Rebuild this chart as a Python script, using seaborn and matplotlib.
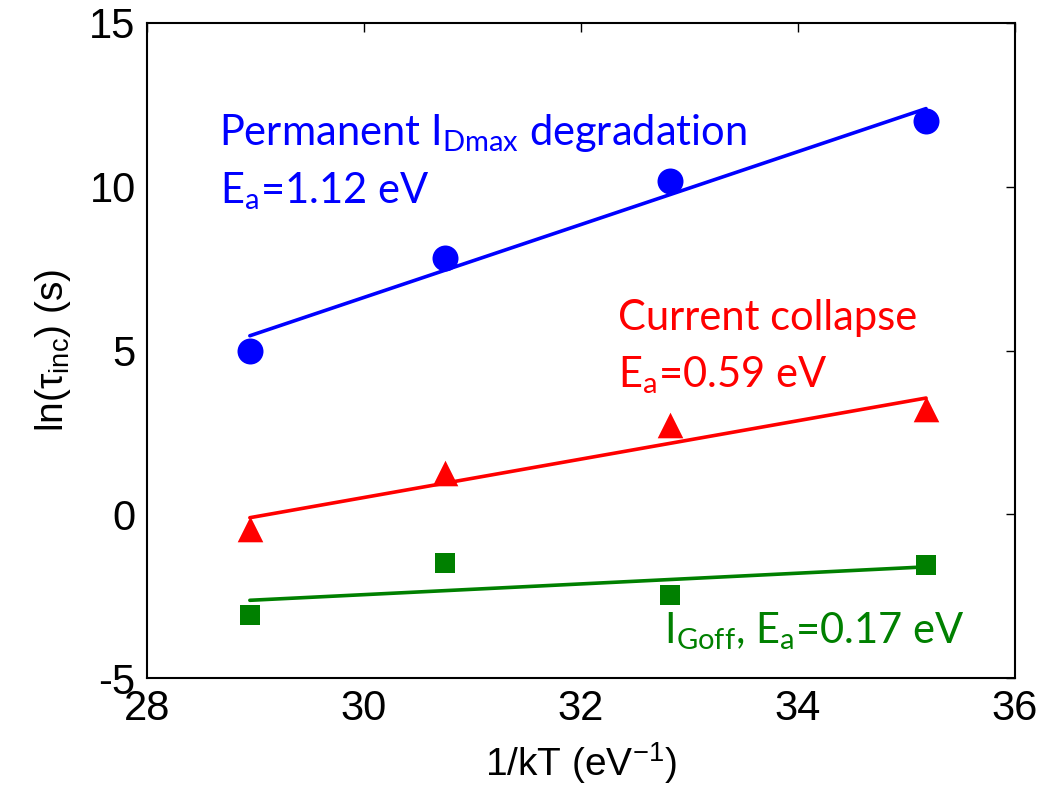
import matplotlib
matplotlib.use("Agg")
import matplotlib.pyplot as plt
import seaborn as sns
import pandas as pd

# -----------------------------
# Data
# -----------------------------
inv_kT = [28.95, 30.75, 32.82, 35.18]
ln_tau_idmax = [4.98, 7.83, 10.17, 12.0]
ln_tau_collapse = [-0.46, 1.25, 2.73, 3.21]
ln_tau_igoff = [-3.07, -1.47, -2.46, -1.54]

# fitted lines (end points)
fit_x = [28.95, 35.18]
fit_idmax = [5.45, 12.38]
fit_collapse = [-0.10, 3.55]
fit_igoff = [-2.62, -1.60]

x_ticks = [28, 30, 32, 34, 36]
y_ticks = [-5, 0, 5, 10, 15]

blue = "#0000ff"
red = "#ff0000"
green = "#008000"

# Style
sns.set_theme(style="white")
plt.rcParams["font.family"] = ["Liberation Sans", "DejaVu Sans"]
plt.rcParams["mathtext.fontset"] = "custom"
plt.rcParams["mathtext.rm"] = "Liberation Sans"
plt.rcParams["text.color"] = "black"
plt.rcParams["axes.labelcolor"] = "black"

fig = plt.figure(figsize=(10.4, 7.94), dpi=100)
ax = fig.add_axes([0.1411, 0.1457, 0.8349, 0.8257])

pts = pd.DataFrame({"x": inv_kT, "idmax": ln_tau_idmax,
                    "collapse": ln_tau_collapse, "igoff": ln_tau_igoff})
fits = pd.DataFrame({"x": fit_x, "idmax": fit_idmax,
                     "collapse": fit_collapse, "igoff": fit_igoff})

# -----------------------------
# Fit lines
# -----------------------------
sns.lineplot(data=fits, x="x", y="idmax", color=blue, linewidth=2.6, ax=ax)
sns.lineplot(data=fits, x="x", y="collapse", color=red, linewidth=2.6, ax=ax)
sns.lineplot(data=fits, x="x", y="igoff", color=green, linewidth=2.6, ax=ax)

# -----------------------------
# Measured points
# -----------------------------
sns.scatterplot(data=pts, x="x", y="idmax", color=blue, marker="o",
                s=350, linewidth=0, ax=ax, zorder=3)
sns.scatterplot(data=pts, x="x", y="collapse", color=red, marker="^",
                s=340, linewidth=0, ax=ax, zorder=3)
sns.scatterplot(data=pts, x="x", y="igoff", color=green, marker="s",
                s=228, linewidth=0, ax=ax, zorder=3)

# -----------------------------
# Annotations
# -----------------------------
tfont = ["Lato", "DejaVu Sans"]
tsize = 30
ax.text(28.67, 11.27, r"Permanent I$_{\mathregular{Dmax}}$ degradation",
        color=blue, fontsize=tsize, family=tfont, va="baseline")
ax.text(28.675, 9.51, r"E$_{\mathregular{a}}$=1.12 eV",
        color=blue, fontsize=tsize, family=tfont, va="baseline")
ax.text(32.34, 5.63, "Current collapse",
        color=red, fontsize=tsize, family=tfont, va="baseline")
ax.text(32.34, 3.89, r"E$_{\mathregular{a}}$=0.59 eV",
        color=red, fontsize=tsize, family=tfont, va="baseline")
ax.text(32.77, -3.92, r"I$_{\mathregular{Goff}}$, E$_{\mathregular{a}}$=0.17 eV",
        color=green, fontsize=tsize, family=tfont, va="baseline")

# -----------------------------
# Axes
# -----------------------------
ax.set_xlim(28, 36)
ax.set_ylim(-5, 15)
ax.set_xticks(x_ticks)
ax.set_yticks(y_ticks)
ax.set_xticklabels([str(v) for v in x_ticks])
ax.set_yticklabels([str(v) for v in y_ticks])
ax.tick_params(direction="in", top=True, right=True, length=6.5, width=1,
               labelsize=30, color="black", labelcolor="black", pad=8)
for sp in ax.spines.values():
    sp.set_color("black")
    sp.set_linewidth(1.5)

ax.set_xlabel(r"1/kT (eV$^{\mathregular{-1}}$)", fontsize=28, labelpad=8)
ax.set_ylabel(r"ln(τ$_{\mathregular{inc}}$) (s)", fontsize=28, labelpad=12)

fig.savefig("out.png", dpi=100)
